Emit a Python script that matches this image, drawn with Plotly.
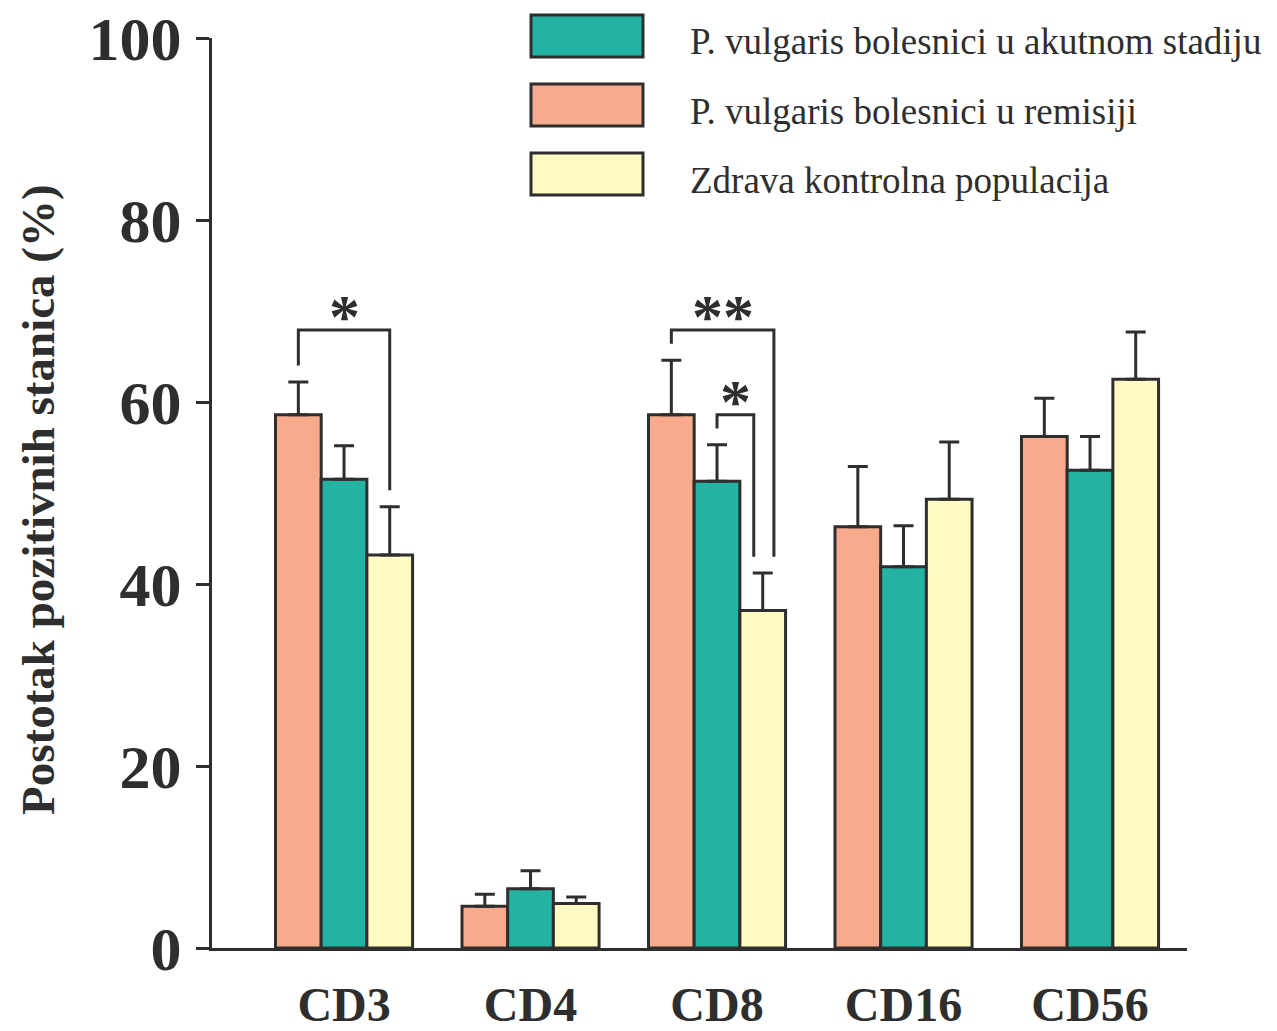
import plotly.graph_objects as go

# Marker groups on the x axis
categories = ["CD3", "CD4", "CD8", "CD16", "CD56"]

# Series (mean % positive cells and upper error)
remisija = [58.6, 4.6, 58.6, 46.3, 56.2]
remisija_err = [3.6, 1.3, 6.0, 6.6, 4.2]
akutni = [51.5, 6.5, 51.3, 41.9, 52.5]
akutni_err = [3.7, 2.0, 4.0, 4.5, 3.7]
kontrola = [43.2, 4.9, 37.1, 49.3, 62.5]
kontrola_err = [5.3, 0.7, 4.1, 6.3, 5.2]

name_akutni = "P. vulgaris bolesnici u akutnom stadiju"
name_remisija = "P. vulgaris bolesnici u remisiji"
name_kontrola = "Zdrava kontrolna populacija"

y_ticks = [0, 20, 40, 60, 80, 100]
y_title = "Postotak pozitivnih stanica (%)"

# Significance brackets: group, left bar slot, right bar slot, bracket height, label
bracket_group = [0, 2, 2]
bracket_left = [0, 0, 1]
bracket_right = [2, 2, 2]
bracket_height = [67.9, 67.9, 58.6]
bracket_label = ["*", "**", "*"]
bracket_right_nudge = [0.0, 0.06, -0.048]

C_SALMON = "#F8AA8C"
C_TEAL = "#24B3A2"
C_YELLOW = "#FDFBC2"
C_LINE = "#2e2e2e"

W, H = 1277, 1031
ML, MR, MT, MB = 212, 90, 38, 83
bargap = 0.265
slot_w = (1 - bargap) / 3

xs = list(range(len(categories)))

fig = go.Figure()
series = [
    (name_remisija, remisija, remisija_err, C_SALMON),
    (name_akutni, akutni, akutni_err, C_TEAL),
    (name_kontrola, kontrola, kontrola_err, C_YELLOW),
]
for name, vals, errs, col in series:
    fig.add_trace(go.Bar(
        x=xs, y=vals, name=name,
        marker=dict(color=col, line=dict(color=C_LINE, width=3)),
        error_y=dict(type="data", symmetric=False, array=errs,
                     arrayminus=[0] * len(errs),
                     color=C_LINE, thickness=3, width=10),
        showlegend=False,
    ))

all_vals = [remisija, akutni, kontrola]
all_errs = [remisija_err, akutni_err, kontrola_err]


def slot_x(g, s):
    return g + (s - 1) * slot_w


gap = 1.8
for g, l, r, h, lab, nud in zip(bracket_group, bracket_left, bracket_right,
                                bracket_height, bracket_label, bracket_right_nudge):
    xl = slot_x(g, l)
    xr = slot_x(g, r) + nud
    yl = all_vals[l][g] + all_errs[l][g] + gap
    yr = all_vals[r][g] + all_errs[r][g] + gap
    fig.add_trace(go.Scatter(
        x=[xl, xl, xr, xr], y=[yl, h, h, yr], mode="lines",
        line=dict(color=C_LINE, width=3), showlegend=False, hoverinfo="skip",
    ))
    fig.add_annotation(
        x=(xl + xr) / 2, y=h, xref="x", yref="y", text="<b>" + lab + "</b>",
        showarrow=False, yanchor="bottom", yshift=-22,
        font=dict(family="Liberation Serif", size=62, color=C_LINE),
    )

# Legend drawn as boxes with labels, teal first
pw, ph = W - ML - MR, H - MT - MB


def px_x(p):
    return (p - ML) / pw


def px_y(p):
    return (H - MB - p) / ph


legend_items = [(name_akutni, C_TEAL, 15), (name_remisija, C_SALMON, 84),
                (name_kontrola, C_YELLOW, 153)]
for name, col, top in legend_items:
    fig.add_shape(type="rect", xref="paper", yref="paper",
                  x0=px_x(531), x1=px_x(643), y0=px_y(top + 42), y1=px_y(top),
                  fillcolor=col, line=dict(color=C_LINE, width=3))
    fig.add_annotation(xref="paper", yref="paper", x=px_x(688), y=px_y(top + 27),
                       text=name, showarrow=False, xanchor="left", yanchor="middle",
                       font=dict(family="Liberation Serif", size=37, color=C_LINE))

fig.add_annotation(xref="paper", yref="paper", x=px_x(38), y=px_y(500),
                   text="<b>" + y_title + "</b>", textangle=-90, showarrow=False,
                   xanchor="center", yanchor="middle",
                   font=dict(family="Liberation Serif", size=47, color=C_LINE))

fig.update_layout(
    width=W, height=H,
    margin=dict(l=ML, r=MR, t=MT, b=MB, pad=0, autoexpand=False),
    paper_bgcolor="white", plot_bgcolor="white",
    barmode="group", bargap=bargap, bargroupgap=0,
    showlegend=False,
    font=dict(family="Liberation Serif", color=C_LINE),
)
fig.update_xaxes(
    range=[-0.708, 4.52], tickvals=xs, ticktext=categories, automargin=False,
    showgrid=False, zeroline=False, showline=True, linecolor=C_LINE, linewidth=3,
    ticks="", ticklabelstandoff=12,
    tickfont=dict(family="Liberation Serif", size=48, color=C_LINE, weight="bold"),
)
fig.update_yaxes(
    range=[0, 100], tickvals=y_ticks, showgrid=False, zeroline=False, automargin=False,
    showline=True, linecolor=C_LINE, linewidth=3,
    ticks="outside", ticklen=13, tickwidth=3, tickcolor=C_LINE,
    ticklabelstandoff=2,
    tickfont=dict(family="Liberation Serif", size=62, color=C_LINE, weight="bold"),
)

fig.write_html("out.html")
